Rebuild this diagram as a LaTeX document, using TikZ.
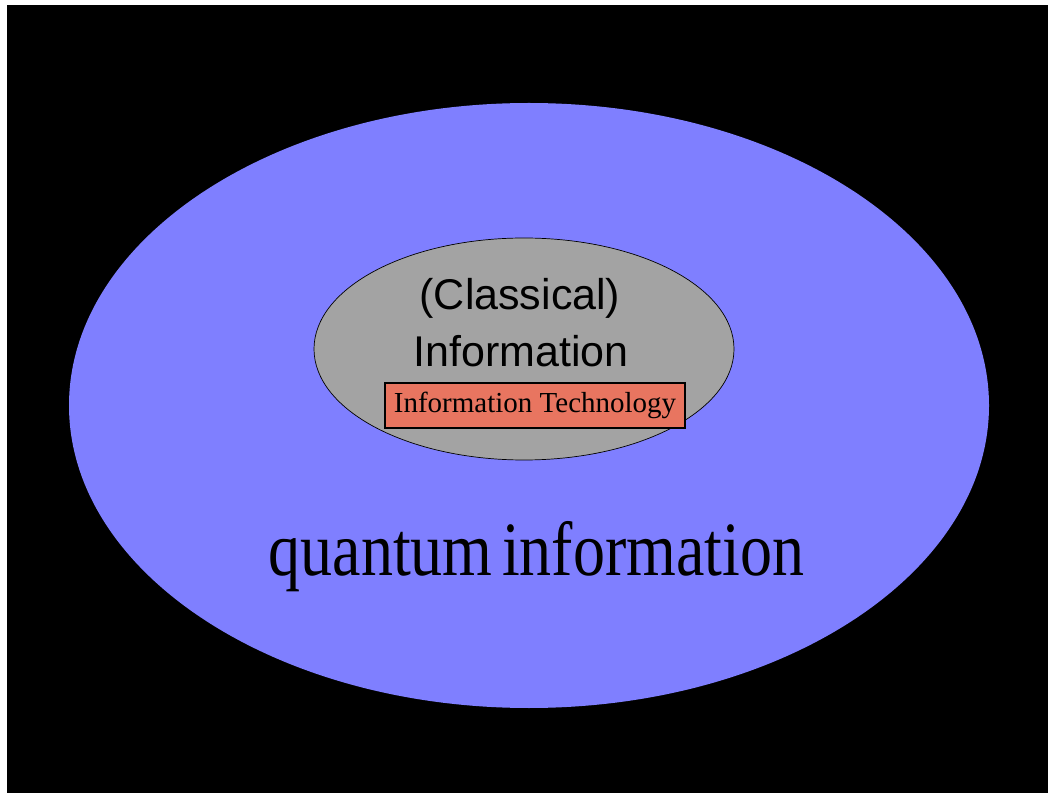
\documentclass[tikz,border=0pt]{standalone}
\usepackage{fontspec}
\setmainfont{Liberation Serif}
\newfontfamily\arialfont{Liberation Sans}
\usetikzlibrary{shapes.geometric}
\definecolor{quantumblue}{HTML}{7F7FFF}
\definecolor{classicgray}{HTML}{A3A3A3}
\definecolor{techred}{HTML}{E87560}
\begin{document}
\begin{tikzpicture}[x=1pt,y=1pt]
  % Frame
  \useasboundingbox (0,0) rectangle (1049,793);
  \fill[black] (7,0) rectangle (1048,788);

  % Sets
  \node[ellipse, fill=quantumblue, inner sep=0pt, minimum width=920pt, minimum height=605pt] (qset) at (529,387.5) {};
  \node[ellipse, draw=black, line width=0.7pt, fill=classicgray, inner sep=0pt, minimum width=420pt, minimum height=222pt] (cset) at (524,444) {};
  \node[rectangle, draw=black, line width=1.2pt, fill=techred, inner sep=0pt, minimum width=300pt, minimum height=45pt,
        font=\fontsize{29}{32}\selectfont] (tech) at (535,387.5) {Information Technology};

  % Labels
  \node[anchor=base, font=\arialfont\fontsize{43}{50}\selectfont] (classical) at (520,483) {(Classical)};
  \node[anchor=base, font=\arialfont\fontsize{43}{50}\selectfont] (info) at (521,426) {Information};
  \node[anchor=base, inner sep=0pt, font=\fontsize{64}{70}\selectfont] (quantum) at (536.5,218)
    {\scalebox{1}[1.2]{quantum\hspace{-0.1em} information}};
\end{tikzpicture}
\end{document}
